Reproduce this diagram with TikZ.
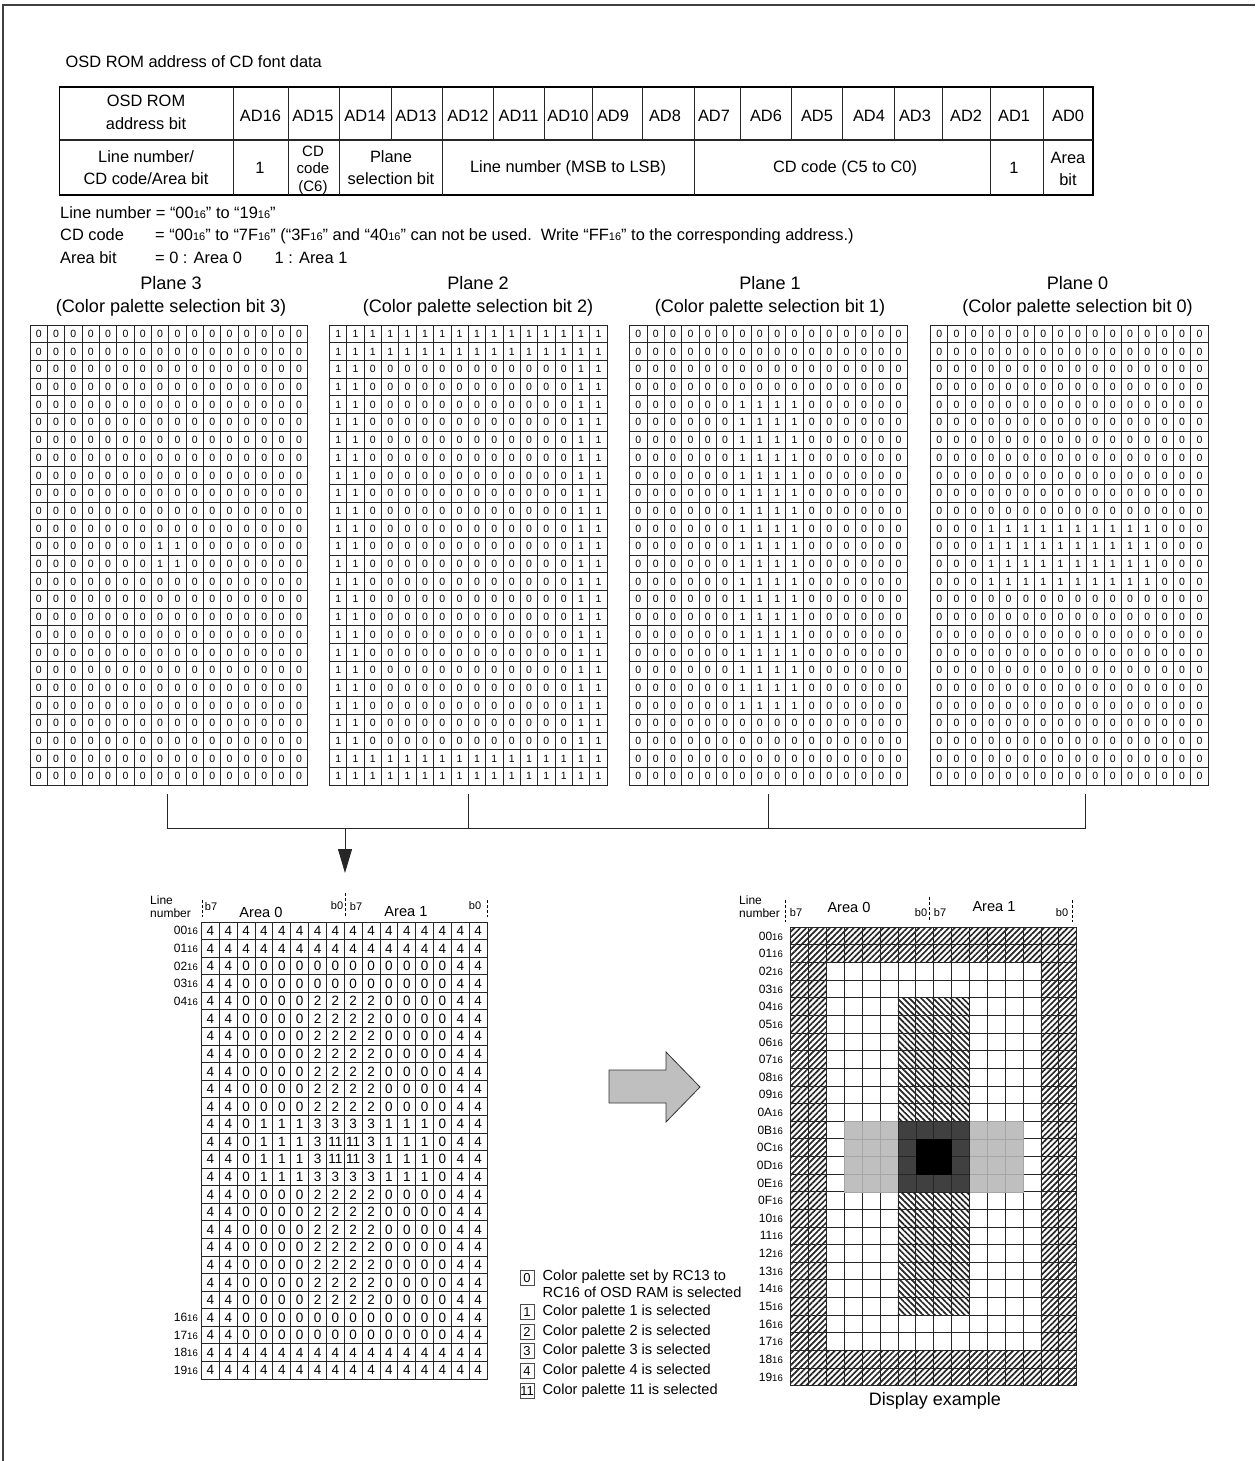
\documentclass[tikz,border=0pt]{standalone}
\usepackage{fontspec}
\setmainfont{Liberation Sans}
\usetikzlibrary{arrows.meta, positioning, patterns.meta}

% palette number of each cell, row by row
\def\fontdata{%
{4,4,4,4,4,4,4,4,4,4,4,4,4,4,4,4},{4,4,4,4,4,4,4,4,4,4,4,4,4,4,4,4},%
{4,4,0,0,0,0,0,0,0,0,0,0,0,0,4,4},{4,4,0,0,0,0,0,0,0,0,0,0,0,0,4,4},%
{4,4,0,0,0,0,2,2,2,2,0,0,0,0,4,4},{4,4,0,0,0,0,2,2,2,2,0,0,0,0,4,4},%
{4,4,0,0,0,0,2,2,2,2,0,0,0,0,4,4},{4,4,0,0,0,0,2,2,2,2,0,0,0,0,4,4},%
{4,4,0,0,0,0,2,2,2,2,0,0,0,0,4,4},{4,4,0,0,0,0,2,2,2,2,0,0,0,0,4,4},%
{4,4,0,0,0,0,2,2,2,2,0,0,0,0,4,4},%
{4,4,0,1,1,1,3,3,3,3,1,1,1,0,4,4},{4,4,0,1,1,1,3,11,11,3,1,1,1,0,4,4},%
{4,4,0,1,1,1,3,11,11,3,1,1,1,0,4,4},{4,4,0,1,1,1,3,3,3,3,1,1,1,0,4,4},%
{4,4,0,0,0,0,2,2,2,2,0,0,0,0,4,4},{4,4,0,0,0,0,2,2,2,2,0,0,0,0,4,4},%
{4,4,0,0,0,0,2,2,2,2,0,0,0,0,4,4},{4,4,0,0,0,0,2,2,2,2,0,0,0,0,4,4},%
{4,4,0,0,0,0,2,2,2,2,0,0,0,0,4,4},{4,4,0,0,0,0,2,2,2,2,0,0,0,0,4,4},%
{4,4,0,0,0,0,2,2,2,2,0,0,0,0,4,4},%
{4,4,0,0,0,0,0,0,0,0,0,0,0,0,4,4},{4,4,0,0,0,0,0,0,0,0,0,0,0,0,4,4},%
{4,4,4,4,4,4,4,4,4,4,4,4,4,4,4,4},{4,4,4,4,4,4,4,4,4,4,4,4,4,4,4,4}}
\newcommand{\sixteen}[1][11]{{\fontsize{#1}{#1}\selectfont 16}}

\begin{document}
\begin{tikzpicture}[x=1pt, y=-1pt,
        txt/.style={inner sep=0pt, font=\fontsize{16.4}{18}\selectfont, align=center},
        note/.style={txt, anchor=base west},
        head/.style={txt, font=\fontsize{18.1}{20}\selectfont},
        bitcell/.style={draw=black!85, line width=0.9pt, inner sep=0pt, minimum width=17.35pt, minimum height=17.7pt, font=\fontsize{10.5}{11}\selectfont},
        palcell/.style={draw=black!85, line width=0.9pt, inner sep=0pt, minimum width=17.85pt, minimum height=17.58pt, font=\fontsize{13.5}{14}\selectfont},
        tag/.style={inner sep=0pt, anchor=east, font=\fontsize{12}{13}\selectfont},
        smalltxt/.style={inner sep=0pt, font=\fontsize{11}{11}\selectfont},
        side/.style={inner sep=0pt, anchor=west, align=left, font=\fontsize{12}{13}\selectfont},
        bitmark/.style={draw, densely dashed, line width=0.7pt},
        rule/.style={draw=black!85, line width=0.9pt},
        legbox/.style={draw=black!70, line width=1pt, inner sep=0pt, minimum width=14pt, minimum height=15.5pt, font=\fontsize{13}{14}\selectfont},
        legtext/.style={txt, font=\fontsize{14.6}{17}\selectfont, align=left, right=8pt of #1},
        disp0/.style={draw=black!85, line width=0.9pt, fill=white},
        disp1/.style={draw=black!35, line width=0.5pt, fill=black!25},
        disp2/.style={draw=black!85, line width=0.9pt, pattern={Lines[angle=135, distance=4.2pt, line width=1.7pt]}, pattern color=black!85},
        disp3/.style={draw=black!85, line width=0.5pt, fill=black!75},
        disp4/.style={draw=black!85, line width=0.9pt, pattern={Lines[angle=45, distance=4.2pt, line width=1.7pt]}, pattern color=black!85},
        disp11/.style={draw=black, line width=0.5pt, fill=black},
        bus/.style={draw=black!85, line width=0.9pt}
    ]
    \useasboundingbox (0,0) rectangle (1255,1461);

    % frame
    \draw[line width=2.4pt, black!75] (3,1461) -- (3,5) -- (1255,5);

    % address table
    \node[note] (title) at (65.5,68) {OSD ROM address of CD font data};
    \draw[line width=1.4pt] (59.5,87) rectangle (1093,195);
    \draw[line width=1.2pt, black!85] (59.5,140) -- (1093,140);
    \foreach \xa in {233,288,339,391,442,493.5,544,592,642,694,740,791,842,894,942,990,1043}
        \draw[rule] (\xa,87) -- (\xa,140);
    \foreach \xa in {233,288,339,442,694,990,1043}
        \draw[rule] (\xa,140) -- (\xa,195);

    \foreach \nm/\xa/\lbl in {ad16/260.5/AD16, ad15/313/AD15, ad14/365/AD14, ad13/416/AD13, ad12/468/AD12,
        ad11/518.5/AD11, ad10/568/AD10, ad9/613/AD9, ad8/665/AD8, ad7/714/AD7, ad6/766/AD6, ad5/817/AD5,
        ad4/869/AD4, ad3/915/AD3, ad2/966/AD2, ad1/1014/AD1, ad0/1068/AD0}
        \node[txt] (\nm) at (\xa,116) {\lbl};
    \node[txt] (romhead) at (146,112.5) {OSD ROM\\[5pt]address bit};
    \node[txt] (linehead) at (146,167.5) {Line number/\\[4pt]CD code/Area bit};
    \node[txt] (one) at (260,168) {1};
    \node[txt, font=\fontsize{15}{17.5}\selectfont] (c6) at (313,170) {CD\\code\\(C6)};
    \node[txt] (planesel) at (391,168) {Plane\\[4pt]selection bit};
    \node[txt] (lineno) at (568,168) {Line number (MSB to LSB)};
    \node[txt] (cdcode) at (845,168) {CD code (C5 to C0)};
    \node[txt] (oneb) at (1014,168) {1};
    \node[txt] (areabit) at (1068,169) {Area\\[4pt]bit};

    % value ranges
    \node[note] (n1) at (60,218) {Line number = “00\sixteen” to “19\sixteen”};
    \node[note] (n2) at (60,240) {CD code};
    \node[note] (n2b) at (155,240) {= “00\sixteen” to “7F\sixteen” (“3F\sixteen” and “40\sixteen” can not be used.\ \ Write “FF\sixteen” to the corresponding address.)};
    \node[note] (n3) at (60,263) {Area bit};
    \node[note] (n3b) at (155,263) {= 0 : Area 0\hspace{2em}1 : Area 1};

    % planes
    \foreach \pl/\px/\cx in {3/30/171, 2/329.5/478, 1/629.7/770, 0/930.5/1077.5} {
        \node[head] (plane\pl) at (\cx,283) {Plane \pl};
        \node[head] (sel\pl) at (\cx,308) {(Color palette selection bit \pl)};
        \foreach \cells [count=\r from 0] in \fontdata {
            \foreach \v [count=\c from 0] in \cells {
                \pgfmathtruncatemacro{\bit}{mod(int(\v/2^\pl),2)}
                \node[bitcell] (p\pl-\r-\c) at ({\px+(\c+.5)*17.35},{325+(\r+.5)*17.7}) {\bit};
            }
        }
    }

    % planes join and go to the map
    \coordinate (s3) at (167,794);
    \coordinate (s2) at (468,794);
    \coordinate (s1) at (768,794);
    \coordinate (s0) at (1085,794);
    \coordinate (j3) at (167,828);
    \coordinate (j2) at (468,828);
    \coordinate (j1) at (768,828);
    \coordinate (j0) at (1085,828);
    \coordinate (jm) at (345,828);
    \coordinate (tip) at (345,873);
    \draw[bus] (s3) -- (j3) -- (j0) -- (s0);
    \draw[bus] (s2) -- (j2);
    \draw[bus] (s1) -- (j1);
    \draw[bus, -{Triangle[width=14pt, length=24pt]}] (jm) -- (tip);

    % palette map
    \node[side] (linenum) at (150,906.5) {Line\\number};
    \draw[bitmark] (202,900) -- (202,917);
    \draw[bitmark] (345,893) -- (345,917);
    \draw[bitmark] (487,900) -- (487,917);
    \node[smalltxt] (b7a) at (211,907) {b7};
    \node[txt, font=\fontsize{14.6}{16}\selectfont] (area0) at (261,912) {Area 0};
    \node[smalltxt] (b0a) at (337,906) {b0};
    \node[smalltxt] (b7b) at (356,907) {b7};
    \node[txt, font=\fontsize{14.6}{16}\selectfont] (area1) at (406,912) {Area 1};
    \node[smalltxt] (b0b) at (475,906) {b0};
    \foreach \cells [count=\r from 0] in \fontdata {
        \foreach \v [count=\c from 0] in \cells
            \node[palcell] (m-\r-\c) at ({201.5+(\c+.5)*17.85},{922+(\r+.5)*17.58}) {\v};
    }
    \foreach \r/\lbl in {0/00,1/01,2/02,3/03,4/04,22/16,23/17,24/18,25/19}
        \node[tag] (ml\lbl) at ({198},{922+(\r+.5)*17.58}) {\lbl\sixteen[9.5]};

    % hollow arrow
    \draw[fill=black!25, draw=black!80, line width=0.8pt] (609,1070) -- (666,1070) -- (666,1052) -- (700,1087)
        -- (666,1122) -- (666,1103) -- (609,1103) -- cycle;

    % legend
    \node[legbox] (leg0) at (527,1278) {0};
    \node[legbox] (leg1) at (527,1312) {1};
    \node[legbox] (leg2) at (527,1332) {2};
    \node[legbox] (leg3) at (527,1351) {3};
    \node[legbox] (leg4) at (527,1371) {4};
    \node[legbox] (leg11) at (527,1391) {11};
    \node[legtext=leg0, yshift=-5.5pt] (legt0) {Color palette set by RC13 to\\RC16 of OSD RAM is selected};
    \node[legtext=leg1] (legt1) {Color palette 1 is selected};
    \node[legtext=leg2] (legt2) {Color palette 2 is selected};
    \node[legtext=leg3] (legt3) {Color palette 3 is selected};
    \node[legtext=leg4] (legt4) {Color palette 4 is selected};
    \node[legtext=leg11] (legt11) {Color palette 11 is selected};

    % display example
    \node[side] (linenumb) at (739,906.5) {Line\\number};
    \draw[bitmark] (785,900) -- (785,922);
    \draw[bitmark] (929,897) -- (929,922);
    \draw[bitmark] (1072,900) -- (1072,922);
    \node[smalltxt] (b7c) at (796,913) {b7};
    \node[txt, font=\fontsize{14.6}{16}\selectfont] (area0b) at (849,907) {Area 0};
    \node[smalltxt] (b0c) at (921,913) {b0};
    \node[smalltxt] (b7d) at (940,913) {b7};
    \node[txt, font=\fontsize{14.6}{16}\selectfont] (area1b) at (994,907) {Area 1};
    \node[smalltxt] (b0d) at (1062,913) {b0};
    \foreach \pick in {0,2,4,1,3,11} {
        \foreach \cells [count=\r from 0] in \fontdata {
            \foreach \v [count=\c from 0] in \cells {
                \ifnum\v=\pick
                    \path[disp\v] ({790.7+\c*17.875},{927.3+\r*17.63}) rectangle ({790.7+(\c+1)*17.875},{927.3+(\r+1)*17.63});
                \fi
            }
        }
    }
    \foreach \r/\lbl in {0/00,1/01,2/02,3/03,4/04,5/05,6/06,7/07,8/08,9/09,10/0A,11/0B,12/0C,13/0D,14/0E,15/0F,
        16/10,17/11,18/12,19/13,20/14,21/15,22/16,23/17,24/18,25/19}
        \node[tag] (dl\lbl) at ({783},{927.3+(\r+.5)*17.63}) {\lbl\sixteen[9.5]};
    \node[head, font=\fontsize{18}{20}\selectfont] (dispex) at (935,1401) {Display example};
\end{tikzpicture}
\end{document}
